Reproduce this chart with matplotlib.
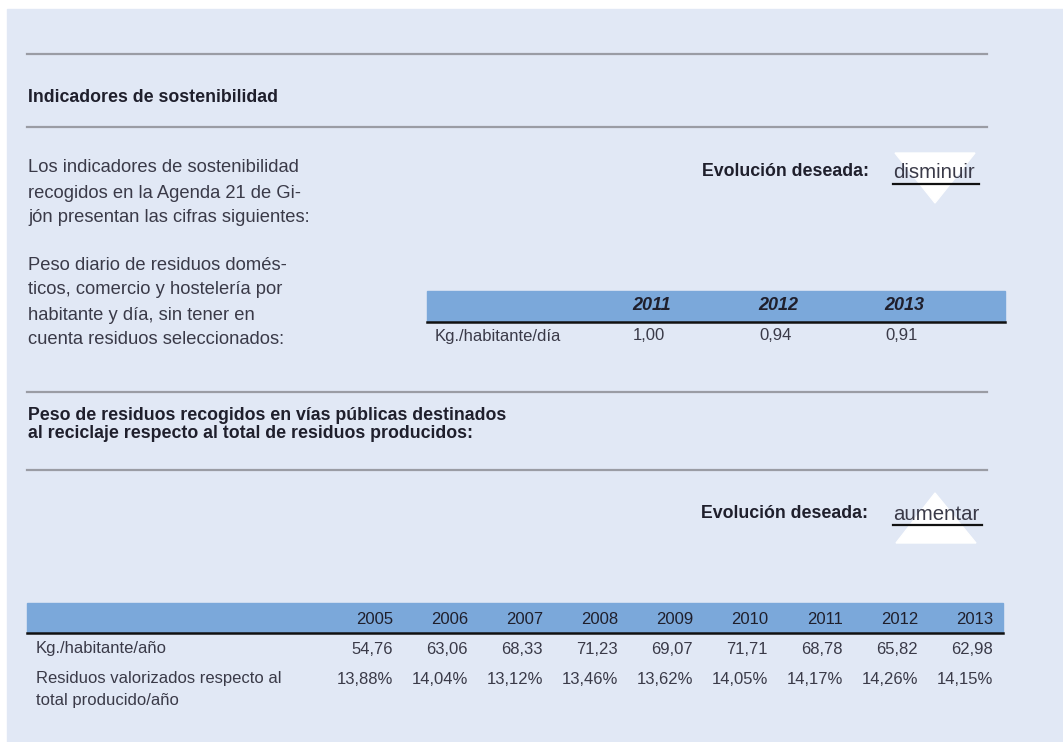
import matplotlib
matplotlib.use("Agg")
import matplotlib.pyplot as plt
from matplotlib.patches import Rectangle, Polygon

plt.rcParams['font.family'] = ['Liberation Sans', 'DejaVu Sans']

# data
years_small = ['2011', '2012', '2013']
kg_dia = ['1,00', '0,94', '0,91']

years_big = ['2005', '2006', '2007', '2008', '2009', '2010', '2011', '2012', '2013']
kg_anio = ['54,76', '63,06', '68,33', '71,23', '69,07', '71,71', '68,78', '65,82', '62,98']
valorizados = ['13,88%', '14,04%', '13,12%', '13,46%', '13,62%', '14,05%', '14,17%', '14,26%', '14,15%']

intro = ['Los indicadores de sostenibilidad',
         'recogidos en la Agenda 21 de Gi-',
         'jón presentan las cifras siguientes:']
peso_txt = ['Peso diario de residuos domés-',
            'ticos, comercio y hostelería por',
            'habitante y día, sin tener en',
            'cuenta residuos seleccionados:']

bg = '#e1e8f5'
band = '#7ba8da'
ink = '#1f1f2c'
body = '#3a3a48'
rule = '#9a9ca4'
fs = 13.2    # body text
fb = 12.8    # bold headings
ft = 12      # tables

fig = plt.figure(figsize=(10.63, 7.42), dpi=100)
ax = fig.add_axes([0, 0, 1, 1])
ax.set_xlim(0, 1063)
ax.set_ylim(742, 0)
ax.axis('off')

ax.add_patch(Rectangle((7, 9), 1056, 733, color=bg, zorder=0))

for y in [54, 127, 392, 470]:
    ax.plot([27, 987], [y, y], color=rule, lw=1.6, zorder=1)

ax.text(28, 97, 'Indicadores de sostenibilidad', fontsize=fb, fontweight='bold',
        color=ink, va='center')

for i, line in enumerate(intro):
    ax.text(28, 168 + 25 * i, line, fontsize=fs, color=body, va='center')
for i, line in enumerate(peso_txt):
    ax.text(28, 265 + 25 * i, line, fontsize=fs, color=body, va='center')

# evolucion deseada: disminuir
ax.add_patch(Polygon([[895, 153], [975, 153], [935, 203]], color='white', zorder=1))
ax.text(869, 172, 'Evolución deseada:', fontsize=fb, fontweight='bold', color=ink,
        ha='right', va='center', zorder=2)
ax.text(893, 172, 'disminuir', fontsize=fs + 1.5, color=body, va='center', zorder=2)
ax.plot([893, 979], [184, 184], color='#111111', lw=1.6, zorder=2)

# small table
ax.add_patch(Rectangle((427, 291), 578, 30, color=band, zorder=1))
ax.plot([427, 1005], [322, 322], color='#111111', lw=1.8, zorder=2)
for i, (yr, v) in enumerate(zip(years_small, kg_dia)):
    x = 632 + 126 * i
    ax.text(x, 306, yr, fontsize=ft + 1, fontweight='bold', fontstyle='italic',
            color=ink, va='center', zorder=2)
    ax.text(x + 1, 336, v, fontsize=ft, color=body, va='center', zorder=2)
ax.text(435, 336, 'Kg./habitante/día', fontsize=ft, color=body, va='center')

# second indicator
ax.text(28, 415, 'Peso de residuos recogidos en vías públicas destinados',
        fontsize=fb, fontweight='bold', color=ink, va='center')
ax.text(28, 433, 'al reciclaje respecto al total de residuos producidos:',
        fontsize=fb, fontweight='bold', color=ink, va='center')

ax.add_patch(Polygon([[896, 543], [976, 543], [935, 493]], color='white', zorder=1))
ax.text(868, 514, 'Evolución deseada:', fontsize=fb, fontweight='bold', color=ink,
        ha='right', va='center', zorder=2)
ax.text(893, 514, 'aumentar', fontsize=fs + 1.5, color=body, va='center', zorder=2)
ax.plot([893, 982], [525, 525], color='#111111', lw=1.6, zorder=2)

# big table
ax.add_patch(Rectangle((27, 603), 976, 29, color=band, zorder=1))
ax.plot([27, 1003], [633, 633], color='#111111', lw=1.8, zorder=2)
for i, (yr, a, p) in enumerate(zip(years_big, kg_anio, valorizados)):
    x = 393 + 75 * i
    ax.text(x, 619, yr, fontsize=ft, color=ink, ha='right', va='center', zorder=2)
    ax.text(x, 649, a, fontsize=ft, color=body, ha='right', va='center')
    ax.text(x, 679, p, fontsize=ft, color=body, ha='right', va='center')
ax.text(36, 649, 'Kg./habitante/año', fontsize=ft, color=body, va='center')
ax.text(36, 679, 'Residuos valorizados respecto al', fontsize=ft, color=body, va='center')
ax.text(36, 700, 'total producido/año', fontsize=ft, color=body, va='center')

fig.savefig('out.png', dpi=100, facecolor='white')
